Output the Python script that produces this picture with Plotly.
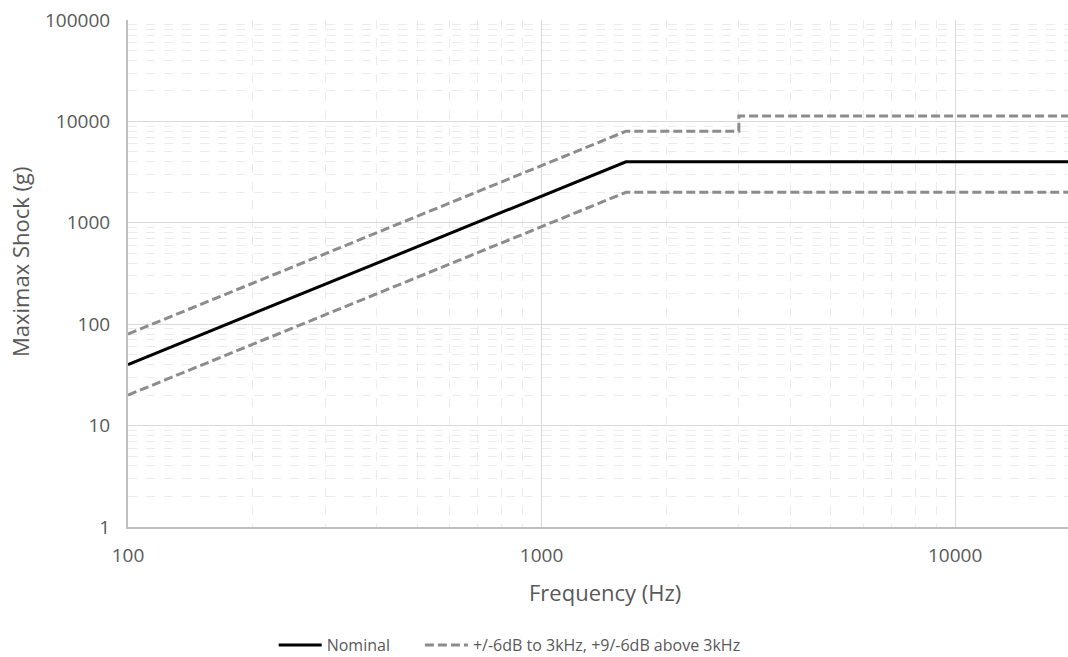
import plotly.graph_objects as go

freq_nominal = [100, 1600, 20000]
shock_nominal = [40, 4000, 4000]

freq_upper = [100, 1600, 3000, 3000, 20000]
shock_upper = [80, 8000, 8000, 11300, 11300]

freq_lower = [100, 1600, 20000]
shock_lower = [20, 2000, 2000]

x_ticks = [100, 1000, 10000]
y_ticks = [1, 10, 100, 1000, 10000, 100000]

x_title = "Frequency (Hz)"
y_title = "Maximax Shock (g)"
name_nominal = "Nominal"
name_tol = "+/-6dB to 3kHz, +9/-6dB above 3kHz"

text_color = "#595959"
font_family = "Open Sans, Noto Sans, sans-serif"
pad = "\u00a0" * 6

fig = go.Figure()
fig.add_trace(go.Scatter(x=freq_nominal, y=shock_nominal, mode="lines", name=name_nominal + pad,
                         line=dict(color="#000000", width=3)))
fig.add_trace(go.Scatter(x=freq_upper, y=shock_upper, mode="lines",
                         name=name_tol, legendgroup="tol",
                         line=dict(color="#8c8c8c", width=3, dash="9px,4px")))
fig.add_trace(go.Scatter(x=freq_lower, y=shock_lower, mode="lines",
                         name=name_tol, legendgroup="tol", showlegend=False,
                         line=dict(color="#8c8c8c", width=3, dash="9px,4px")))

fig.update_layout(
    width=1068, height=657,
    margin=dict(l=128, r=0, t=20, b=130, autoexpand=False),
    paper_bgcolor="white", plot_bgcolor="white",
    font=dict(family=font_family, color=text_color, size=16),
    showlegend=True,
    legend=dict(orientation="h", x=0.155, xanchor="left", y=-0.2327, yanchor="middle",
                font=dict(size=16, color=text_color), itemwidth=43, tracegroupgap=0),
    annotations=[
        dict(text=x_title, xref="paper", yref="paper", x=0.5074, y=-0.128,
             xanchor="center", yanchor="middle", showarrow=False,
             font=dict(size=22, color=text_color)),
        dict(text=y_title, xref="paper", yref="paper", x=-0.1149, y=0.5227,
             xanchor="center", yanchor="middle", showarrow=False, textangle=-90,
             font=dict(size=22, color=text_color)),
    ],
)
fig.update_xaxes(
    type="log", range=[2, 4.273], automargin=False,
    tickvals=x_ticks, ticktext=[str(v) for v in x_ticks],
    tickfont=dict(size=19, color=text_color), ticklabeloverflow="allow",
    showline=True, linecolor="#bfbfbf", linewidth=2,
    showgrid=True, gridcolor="#d9d9d9", gridwidth=1,
    minor=dict(showgrid=True, dtick="D1", gridcolor="#ebebeb", griddash="dash", gridwidth=1),
    ticks="", ticklabelstandoff=10,
    zeroline=False,
)
fig.update_yaxes(
    type="log", range=[0, 5], automargin=False,
    tickvals=y_ticks, ticktext=[str(v) for v in y_ticks],
    tickfont=dict(size=19, color=text_color), ticklabeloverflow="allow",
    showline=True, linecolor="#bfbfbf", linewidth=2,
    showgrid=True, gridcolor="#d9d9d9", gridwidth=1,
    minor=dict(showgrid=True, dtick="D1", gridcolor="#ebebeb", griddash="dash", gridwidth=1),
    ticks="", ticklabelstandoff=12,
    zeroline=False,
)

fig.write_html("out.html", config={"displayModeBar": False},
               post_script="document.body.style.margin='0';")
